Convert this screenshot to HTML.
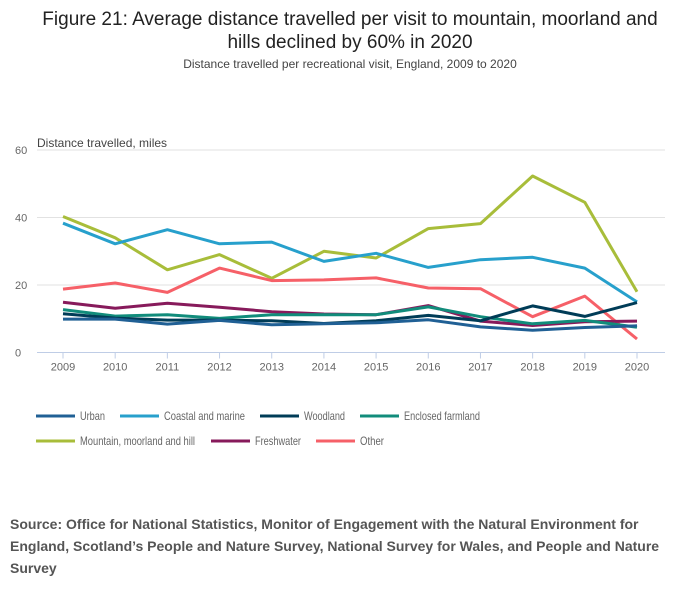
<!DOCTYPE html>
<html><head><meta charset="utf-8">
<style>
body{margin:0;background:#fff;font-family:"Liberation Sans",sans-serif;}
#wrap{position:relative;width:700px;height:599px;overflow:hidden;}
.t{position:absolute;white-space:nowrap;}
</style></head>
<body>
<div id="wrap">
<div class="t" style="left:0;width:700px;text-align:center;top:8px;font-size:19px;line-height:23px;color:#222;">Figure 21: Average distance travelled per visit to mountain, moorland and<br>hills declined by 60% in 2020</div>
<div class="t" style="left:0;width:700px;text-align:center;top:57px;font-size:12px;color:#444;">Distance travelled per recreational visit, England, 2009 to 2020</div>
<svg id="chart" width="700" height="470" style="position:absolute;left:0;top:0"></svg>
<div class="t" style="left:10px;top:513px;width:680px;white-space:normal;font-size:14px;line-height:22px;font-weight:bold;color:#555;">Source: Office for National Statistics, Monitor of Engagement with the Natural Environment for England, Scotland’s People and Nature Survey, National Survey for Wales, and People and Nature Survey</div>
</div>
<script>
const years=[2009,2010,2011,2012,2013,2014,2015,2016,2017,2018,2019,2020];
const yTicks=[0,20,40,60];
const seriesNames=["Urban","Coastal and marine","Woodland","Enclosed farmland","Mountain, moorland and hill","Freshwater","Other"];
const seriesColors=["#206095","#27a0cc","#003c57","#118c7b","#a8bd3a","#871a5b","#f66068"];
const urban=[9.9,9.9,8.4,9.5,8.2,8.5,8.8,9.7,7.6,6.6,7.4,7.9];
const coastal=[38.3,32.2,36.4,32.2,32.7,27,29.4,25.2,27.5,28.2,25,15];
const woodland=[11.5,10.2,9.6,9.6,9.4,8.6,9.4,11,9.4,13.8,10.7,14.8];
const enclosed=[12.7,10.8,11.2,10.1,11.2,11.2,11.2,13.5,10.6,8.5,9.5,7.5];
const mountain=[40.3,34,24.5,29,22,30,28,36.7,38.2,52.3,44.5,18];
const freshwater=[14.9,13.1,14.6,13.4,12.1,11.4,11.2,13.9,9.3,8,9.1,9.3];
const other=[18.8,20.6,17.8,25,21.3,21.5,22.1,19.1,18.9,10.6,16.7,4];
const allSeries=[urban,coastal,woodland,enclosed,mountain,freshwater,other];
const drawOrder=[4,1,6,5,3,2,0];

const NS="http://www.w3.org/2000/svg";
const svg=document.getElementById('chart');
const x0=63,x1=637,yTop=150,yBot=352.5;
const xS=i=>x0+(x1-x0)*i/(years.length-1);
const yS=v=>yBot-(yBot-yTop)*v/60;
function mk(t,a){const e=document.createElementNS(NS,t);for(const k in a)e.setAttribute(k,a[k]);svg.appendChild(e);return e;}

yTicks.forEach(v=>{
  if(v>0){const g=mk('line',{x1:37,x2:665,y1:yS(v),y2:yS(v),stroke:'#e2e2e2','stroke-width':1});
  
  }
  const t=mk('text',{x:15,y:yS(v)+4,'font-size':11,fill:'#666','font-family':'Liberation Sans, sans-serif'});
  t.textContent=v;
  
  
});
const yt=mk('text',{x:37,y:147,'font-size':12,fill:'#444','font-family':'Liberation Sans, sans-serif'});
yt.textContent='Distance travelled, miles';



const ax=mk('line',{x1:37,x2:665,y1:yBot,y2:yBot,stroke:'#bfcde6','stroke-width':1});


years.forEach((yr,i)=>{
  const tk=mk('line',{x1:xS(i),x2:xS(i),y1:yBot,y2:yBot+6,stroke:'#bfcde6'});
  
  
  const t=mk('text',{x:xS(i),y:yBot+18,'font-size':11,fill:'#666','text-anchor':'middle','font-family':'Liberation Sans, sans-serif'});
  t.textContent=yr;
  
  
});

drawOrder.forEach(s=>{
  const d=allSeries[s].map((v,i)=>(i?'L':'M')+xS(i).toFixed(1)+','+yS(v).toFixed(1)).join('');
  const p=mk('path',{d:d,fill:'none',stroke:seriesColors[s],'stroke-width':3,'stroke-linejoin':'round'});
  
  
});

const legPos=[[36,416],[120,416],[260,416],[360,416],[36,441],[211,441],[316,441]];
const legW=[25,81,41,76,115,46,24];
seriesNames.forEach((n,s)=>{
  const [lx,ly]=legPos[s];
  const l=mk('line',{x1:lx,x2:lx+39,y1:ly,y2:ly,stroke:seriesColors[s],'stroke-width':3});
  
  
  const t=mk('text',{x:lx+44,y:ly+4,'font-size':12,fill:'#666','font-family':'Liberation Sans, sans-serif',textLength:legW[s],lengthAdjust:'spacingAndGlyphs'});
  t.textContent=n;
  
  
});
</script>
</body></html>
